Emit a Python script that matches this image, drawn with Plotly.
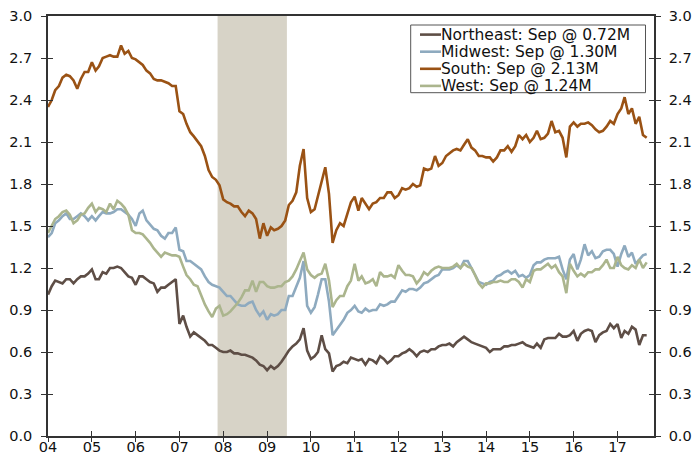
import pandas as pd
import plotly.graph_objects as go

dates = pd.date_range("2004-01-01", periods=165, freq="MS")

northeast = [
    1.01, 1.07, 1.11, 1.10, 1.09, 1.12, 1.12, 1.09, 1.12, 1.14, 1.14, 1.16,
    1.19, 1.12, 1.12, 1.17, 1.16, 1.20, 1.20, 1.21, 1.20, 1.17, 1.14, 1.13,
    1.08, 1.14, 1.14, 1.12, 1.10, 1.09, 1.03, 1.06, 1.06, 1.08, 1.10, 1.12,
    0.80, 0.86, 0.78, 0.71, 0.74, 0.72, 0.70, 0.68, 0.65, 0.65, 0.63, 0.61,
    0.60, 0.60, 0.61, 0.59, 0.59, 0.58, 0.58, 0.57, 0.56, 0.54, 0.51, 0.50,
    0.47, 0.50, 0.48, 0.50, 0.53, 0.57, 0.61, 0.64, 0.66, 0.69, 0.77, 0.61,
    0.55, 0.57, 0.60, 0.72, 0.62, 0.59, 0.46, 0.50, 0.51, 0.53, 0.52, 0.56,
    0.55, 0.54, 0.55, 0.51, 0.55, 0.54, 0.52, 0.57, 0.55, 0.52, 0.54, 0.57,
    0.57, 0.59, 0.60, 0.62, 0.60, 0.57, 0.60, 0.61, 0.60, 0.62, 0.62, 0.64,
    0.65, 0.65, 0.66, 0.64, 0.67, 0.69, 0.71, 0.69, 0.67, 0.66, 0.65, 0.64,
    0.63, 0.60, 0.62, 0.62, 0.62, 0.64, 0.64, 0.65, 0.65, 0.66, 0.67, 0.65,
    0.64, 0.63, 0.66, 0.63, 0.69, 0.70, 0.70, 0.70, 0.73, 0.71, 0.71, 0.72,
    0.75, 0.68, 0.73, 0.75, 0.76, 0.75, 0.67, 0.72, 0.74, 0.75, 0.80, 0.77,
    0.80, 0.70, 0.75, 0.73, 0.78, 0.76, 0.65, 0.72, 0.72,
]

midwest = [
    1.42, 1.45, 1.52, 1.54, 1.57, 1.59, 1.55, 1.55, 1.57, 1.59, 1.57, 1.54,
    1.57, 1.54, 1.57, 1.60, 1.59, 1.59, 1.60, 1.62, 1.62, 1.60, 1.58, 1.55,
    1.50, 1.59, 1.61, 1.54, 1.51, 1.48, 1.47, 1.43, 1.41, 1.45, 1.45, 1.49,
    1.33, 1.32, 1.25, 1.25, 1.23, 1.21, 1.19, 1.14, 1.10, 1.08, 1.07, 1.06,
    1.03, 1.00, 1.00, 0.97, 0.94, 0.93, 0.93, 0.95, 0.96, 0.90, 0.86, 0.89,
    0.83, 0.87, 0.86, 0.87, 0.90, 0.90, 1.00, 1.00, 1.06, 1.13, 1.25, 0.93,
    0.88, 0.92, 1.01, 1.12, 1.12, 0.96, 0.72, 0.76, 0.80, 0.83, 0.88, 0.90,
    0.93, 0.89, 0.88, 0.91, 0.89, 0.90, 0.90, 0.94, 0.93, 0.94, 0.96, 0.96,
    1.00, 1.04, 1.03, 1.05, 1.05, 1.04, 1.06, 1.09, 1.10, 1.12, 1.14, 1.15,
    1.19, 1.19, 1.19, 1.20, 1.22, 1.20, 1.25, 1.25, 1.20, 1.15, 1.10, 1.09,
    1.08, 1.10, 1.11, 1.14, 1.15, 1.17, 1.18, 1.16, 1.18, 1.14, 1.15, 1.13,
    1.15, 1.22, 1.24, 1.24, 1.26, 1.27, 1.27, 1.27, 1.28, 1.19, 1.12, 1.26,
    1.30, 1.19, 1.26, 1.37, 1.29, 1.32, 1.27, 1.28, 1.32, 1.33, 1.33, 1.30,
    1.21, 1.30, 1.36, 1.28, 1.31, 1.23, 1.26, 1.29, 1.30,
]

south = [
    2.35, 2.40, 2.47, 2.50, 2.56, 2.58, 2.57, 2.54, 2.48, 2.55, 2.60, 2.60,
    2.67, 2.61, 2.64, 2.70, 2.71, 2.72, 2.71, 2.71, 2.79, 2.73, 2.75, 2.70,
    2.69, 2.67, 2.65, 2.61, 2.59, 2.55, 2.54, 2.54, 2.53, 2.52, 2.50, 2.50,
    2.32, 2.30, 2.23, 2.17, 2.14, 2.10, 2.07, 2.00, 1.90, 1.85, 1.83, 1.79,
    1.69, 1.67, 1.66, 1.64, 1.64, 1.60, 1.57, 1.61, 1.59, 1.55, 1.41, 1.52,
    1.43, 1.49, 1.47, 1.48, 1.50, 1.54, 1.65, 1.68, 1.74, 1.93, 2.05, 1.70,
    1.60, 1.62, 1.71, 1.83, 1.92, 1.73, 1.38, 1.47, 1.52, 1.50, 1.59, 1.67,
    1.71, 1.61, 1.70, 1.66, 1.62, 1.66, 1.67, 1.70, 1.70, 1.74, 1.74, 1.70,
    1.72, 1.77, 1.76, 1.77, 1.80, 1.78, 1.79, 1.91, 1.90, 1.91, 2.00, 1.93,
    1.95, 2.00, 2.02, 2.04, 2.05, 2.04, 2.08, 2.12, 2.06, 2.04, 2.00, 2.00,
    1.99, 1.99, 1.96, 1.99, 2.04, 2.04, 2.07, 2.03, 2.07, 2.15, 2.12, 2.15,
    2.10, 2.13, 2.18, 2.12, 2.13, 2.16, 2.25, 2.17, 2.18, 2.13, 1.99, 2.21,
    2.24, 2.21, 2.23, 2.23, 2.24, 2.22, 2.19, 2.17, 2.18, 2.21, 2.25, 2.23,
    2.30, 2.34, 2.42, 2.30, 2.34, 2.23, 2.28, 2.15, 2.13,
]

west = [
    1.45, 1.50, 1.55, 1.57, 1.60, 1.61, 1.58, 1.52, 1.54, 1.58, 1.59, 1.63,
    1.66, 1.60, 1.63, 1.62, 1.60, 1.66, 1.62, 1.68, 1.66, 1.63, 1.58, 1.47,
    1.45, 1.45, 1.44, 1.41, 1.38, 1.34, 1.31, 1.28, 1.31, 1.30, 1.29, 1.29,
    1.28, 1.21, 1.15, 1.12, 1.08, 1.07, 1.00, 0.94, 0.89, 0.85, 0.91, 0.93,
    0.86, 0.87, 0.89, 0.92, 0.95, 0.99, 1.04, 1.04, 1.11, 1.03, 1.10, 1.10,
    1.07, 1.06, 1.06, 1.07, 1.07, 1.10, 1.11, 1.14, 1.19, 1.25, 1.31, 1.19,
    1.15, 1.13, 1.15, 1.16, 1.23, 1.11, 0.92, 0.97, 1.00, 1.00, 1.07, 1.11,
    1.23, 1.11, 1.14, 1.09, 1.10, 1.12, 1.07, 1.17, 1.14, 1.14, 1.15, 1.13,
    1.22, 1.18, 1.15, 1.15, 1.14, 1.09, 1.12, 1.17, 1.15, 1.18, 1.20, 1.21,
    1.20, 1.20, 1.20, 1.21, 1.23, 1.20, 1.23, 1.21, 1.20, 1.15, 1.09, 1.06,
    1.09, 1.09, 1.10, 1.10, 1.11, 1.10, 1.10, 1.12, 1.12, 1.10, 1.06, 1.12,
    1.10, 1.18, 1.19, 1.19, 1.21, 1.23, 1.20, 1.22, 1.17, 1.14, 1.02, 1.23,
    1.18, 1.14, 1.16, 1.14, 1.17, 1.17, 1.19, 1.19, 1.22, 1.26, 1.20, 1.20,
    1.28, 1.22, 1.20, 1.19, 1.22, 1.20, 1.26, 1.20, 1.24,
]

series_names = [
    "Northeast: Sep @ 0.72M",
    "Midwest: Sep @ 1.30M",
    "South: Sep @ 2.13M",
    "West: Sep @ 1.24M",
]
series_values = [northeast, midwest, south, west]
series_colors = ["#5e4e46", "#8eaabf", "#9a5214", "#abb58d"]

year_ticks = pd.date_range("2004-01-01", "2017-01-01", freq="YS")
year_labels = [d.strftime("%y") for d in year_ticks]
y_ticks = [round(0.3 * i, 1) for i in range(11)]
y_labels = [f"{v:.1f}" for v in y_ticks]

recession_start = "2007-11-15"
recession_end = "2009-06-15"
x_range = ["2004-01-01", "2017-11-01"]

FONT = "DejaVu Sans"
AXC = "#333333"
W, H = 693, 463
ML, MR, MT, MB = 48, 39, 16, 27
PW, PH = W - ML - MR, H - MT - MB


def px_x(px):
    return (px - ML) / PW


def px_y(py):
    return (H - MB - py) / PH


fig = go.Figure()
for name, vals, col in zip(series_names, series_values, series_colors):
    fig.add_trace(go.Scatter(x=dates, y=vals, mode="lines", name=name,
                             line=dict(color=col, width=2.6)))
# invisible helper traces so the extra tick axes render
hidden = dict(mode="lines", line=dict(color="rgba(0,0,0,0)", width=0),
              showlegend=False, hoverinfo="skip")
fig.add_trace(go.Scatter(x=dates, y=south, yaxis="y2", **hidden))
fig.add_trace(go.Scatter(x=dates, y=south, xaxis="x2", yaxis="y3", **hidden))
fig.add_trace(go.Scatter(x=dates, y=south, yaxis="y4", **hidden))

fig.add_shape(type="rect", xref="x", yref="paper", x0=recession_start,
              x1=recession_end, y0=0, y1=1, fillcolor="#d7d3c7",
              line=dict(width=0), layer="below")

# legend drawn as box + sample lines + text
leg_left, leg_right, leg_top, leg_bottom = 410.7, 645.5, 25.0, 92.7
fig.add_shape(type="rect", xref="paper", yref="paper",
              x0=px_x(leg_left), x1=px_x(leg_right),
              y0=px_y(leg_bottom), y1=px_y(leg_top),
              fillcolor="white", line=dict(color="#555555", width=1),
              layer="above")
row_y0, row_dy = 34.6, 17.1
for i, (name, col) in enumerate(zip(series_names, series_colors)):
    ry = row_y0 + i * row_dy
    fig.add_shape(type="line", xref="paper", yref="paper",
                  x0=px_x(420), x1=px_x(441), y0=px_y(ry), y1=px_y(ry),
                  line=dict(color=col, width=2.6), layer="above")
    fig.add_annotation(xref="paper", yref="paper", x=px_x(440), y=px_y(ry + 0.5),
                       xanchor="left", yanchor="middle", text=name,
                       showarrow=False, borderpad=0,
                       font=dict(family=FONT, size=15.5, color="#111111"))

tickfont = dict(family=FONT, size=14.5, color="#111111")
common_y = dict(range=[0, 3], tickvals=y_ticks, ticktext=y_labels,
                showgrid=False, zeroline=False, automargin=False)

fig.update_layout(
    width=W, height=H,
    margin=dict(l=ML, r=MR, t=MT, b=MB, autoexpand=False),
    paper_bgcolor="white", plot_bgcolor="white",
    font=dict(family=FONT, size=15, color="#111111"),
    showlegend=False,
    xaxis=dict(type="date", range=x_range, tickvals=year_ticks,
               ticktext=year_labels, ticks="inside", ticklen=5,
               tickcolor=AXC, tickwidth=1, showline=True, linecolor=AXC,
               linewidth=1.5, mirror=True, showgrid=False, zeroline=False,
               tickfont=tickfont, automargin=False, ticklabelstandoff=-3),
    xaxis2=dict(type="date", range=x_range, tickvals=year_ticks,
                overlaying="x", anchor="y", ticks="outside", ticklen=5,
                tickcolor=AXC, tickwidth=1, showticklabels=False,
                showline=False, showgrid=False, zeroline=False,
                automargin=False),
    yaxis=dict(**common_y, ticks="outside", ticklen=5, tickcolor=AXC,
               tickwidth=1, showline=True, linecolor=AXC, linewidth=1.5,
               tickfont=tickfont, ticklabelstandoff=6),
    yaxis2=dict(**common_y, overlaying="y", side="right", anchor="x",
                ticks="outside", ticklen=5, tickcolor=AXC, tickwidth=1,
                showline=True, linecolor=AXC, linewidth=1.5,
                tickfont=tickfont, ticklabelstandoff=5),
    yaxis3=dict(**common_y, overlaying="y", side="left", anchor="x",
                ticks="inside", ticklen=5, tickcolor=AXC, tickwidth=1,
                showticklabels=False, showline=False),
    yaxis4=dict(**common_y, overlaying="y", side="right", anchor="x",
                ticks="inside", ticklen=5, tickcolor=AXC, tickwidth=1,
                showticklabels=False, showline=False),
)

fig.write_html("out.html",
               config={"displayModeBar": False},
               post_script="document.body.style.margin='0';"
                           "document.body.style.overflow='hidden';")
